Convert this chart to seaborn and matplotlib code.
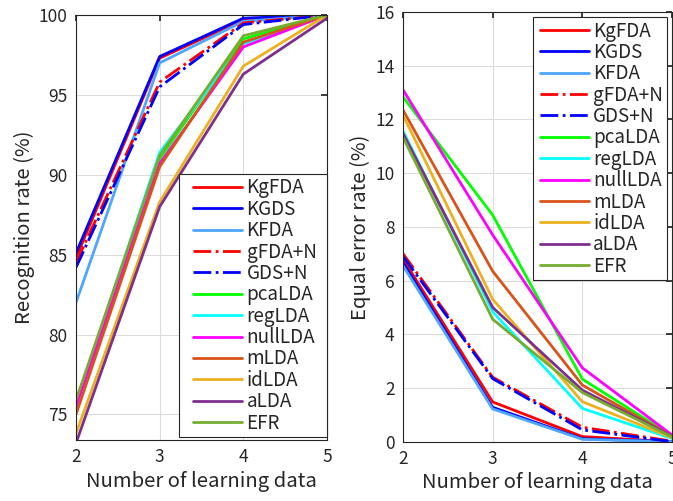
import matplotlib
matplotlib.use("Agg")
import matplotlib.pyplot as plt
from matplotlib.lines import Line2D
from matplotlib.legend_handler import HandlerLine2D
import seaborn as sns
import pandas as pd

# Number of learning data per class
n_learn = [2, 3, 4, 5]

methods = ["KgFDA", "KGDS", "KFDA", "gFDA+N", "GDS+N", "pcaLDA",
           "regLDA", "nullLDA", "mLDA", "idLDA", "aLDA", "EFR"]

# Recognition rate (%)
rr_KgFDA = [84.8, 97.3, 99.7, 100.0]
rr_KGDS = [85.1, 97.4, 99.8, 100.0]
rr_KFDA = [82.0, 97.0, 99.6, 100.0]
rr_gFDAN = [84.5, 95.8, 99.5, 100.0]
rr_GDSN = [84.2, 95.5, 99.4, 100.0]
rr_pcaLDA = [75.8, 91.0, 98.5, 100.0]
rr_regLDA = [75.7, 91.4, 98.2, 100.0]
rr_nullLDA = [75.5, 90.7, 98.0, 100.0]
rr_mLDA = [75.0, 90.5, 98.3, 100.0]
rr_idLDA = [73.8, 88.3, 96.8, 100.0]
rr_aLDA = [73.2, 88.0, 96.3, 99.8]
rr_EFR = [75.9, 91.2, 98.7, 100.0]

# Equal error rate (%)
eer_KgFDA = [6.8, 1.48, 0.19, 0.0]
eer_KGDS = [6.67, 1.28, 0.11, 0.0]
eer_KFDA = [6.55, 1.22, 0.09, 0.0]
eer_gFDAN = [7.0, 2.4, 0.54, 0.02]
eer_GDSN = [6.9, 2.35, 0.44, 0.0]
eer_pcaLDA = [12.84, 8.44, 2.33, 0.22]
eer_regLDA = [11.57, 4.84, 1.24, 0.12]
eer_nullLDA = [13.1, 7.7, 2.75, 0.25]
eer_mLDA = [12.35, 6.35, 2.11, 0.2]
eer_idLDA = [12.16, 5.3, 1.49, 0.15]
eer_aLDA = [11.48, 5.0, 1.92, 0.2]
eer_EFR = [11.34, 4.56, 1.83, 0.18]

rr = [rr_KgFDA, rr_KGDS, rr_KFDA, rr_gFDAN, rr_GDSN, rr_pcaLDA,
      rr_regLDA, rr_nullLDA, rr_mLDA, rr_idLDA, rr_aLDA, rr_EFR]
eer = [eer_KgFDA, eer_KGDS, eer_KFDA, eer_gFDAN, eer_GDSN, eer_pcaLDA,
       eer_regLDA, eer_nullLDA, eer_mLDA, eer_idLDA, eer_aLDA, eer_EFR]

colors = ["#ff0000", "#0000ff", "#4da6ff", "#ff0000", "#0000ff", "#00ff00",
          "#00ffff", "#ff00ff", "#d95319", "#edb120", "#7e2f8e", "#77ac30"]
styles = ["-", "-", "-", "-.", "-.", "-", "-", "-", "-", "-", "-", "-"]

sns.set_theme(style="white")
plt.rcParams["font.family"] = ["Noto Sans CJK JP", "DejaVu Sans"]
plt.rcParams["axes.edgecolor"] = "#262626"
plt.rcParams["axes.linewidth"] = 0.8

fig = plt.figure(figsize=(6.73, 5.01), dpi=100)
ax1 = fig.add_axes([76 / 673, 61 / 501, 251 / 673, 425 / 501])
ax2 = fig.add_axes([403 / 673, 59.3 / 501, 269 / 673, 429.7 / 501])


def draw(ax, values):
    for name, vals, col, ls in zip(methods, values, colors, styles):
        df = pd.DataFrame({"n": n_learn, "v": vals})
        sns.lineplot(data=df, x="n", y="v", ax=ax, color=col, linewidth=2.0,
                     linestyle=ls, label=name, legend=False)


draw(ax1, rr)
draw(ax2, eer)

tick_fs = 12.5
label_fs = 14.6
legend_fs = 13.6
for ax in (ax1, ax2):
    ax.set_xlim(2, 5)
    ax.set_xticks(n_learn)
    ax.grid(True, color="#dcdcdc", linewidth=0.8)
    ax.tick_params(direction="in", top=True, right=True, length=4,
                   labelsize=tick_fs, colors="#262626", pad=6)
    ax.set_xlabel("Number of learning data", fontsize=label_fs,
                  color="#262626", labelpad=3)
    for s in ax.spines.values():
        s.set_visible(True)
        s.set_color("#262626")

ax1.set_ylim(73.4, 100)
ax1.set_yticks([75, 80, 85, 90, 95, 100])
ax1.set_ylabel("Recognition rate (%)", fontsize=label_fs, color="#262626",
               labelpad=3)

ax2.set_ylim(0, 16)
ax2.set_yticks(list(range(0, 17, 2)))
ax2.set_ylabel("Equal error rate (%)", fontsize=label_fs, color="#262626",
               labelpad=3)

leg_kw = dict(fontsize=legend_fs, frameon=True, fancybox=False, framealpha=1,
              edgecolor="#262626", handletextpad=0.25,
              labelspacing=0.02, borderpad=0.18, borderaxespad=0.0)

# Left panel: legend stretched to the right edge of the axes
h1, l1 = ax1.get_legend_handles_labels()
lg1 = ax1.legend(h1, l1, loc="lower left", mode="expand",
                 bbox_to_anchor=(0.41, 0.007, 0.59, 0.6),
                 handlelength=3.15,
                 handler_map={Line2D: HandlerLine2D(xpad=0.55)}, **leg_kw)

# Right panel: compact legend in the upper right corner
h2, l2 = ax2.get_legend_handles_labels()
lg2 = ax2.legend(h2, l2, loc="upper right",
                 bbox_to_anchor=(0.98, 0.988),
                 handlelength=2.75,
                 handler_map={Line2D: HandlerLine2D(xpad=0.15)}, **leg_kw)
for lg in (lg1, lg2):
    lg.get_frame().set_linewidth(0.8)

fig.savefig("out.png", dpi=100)
